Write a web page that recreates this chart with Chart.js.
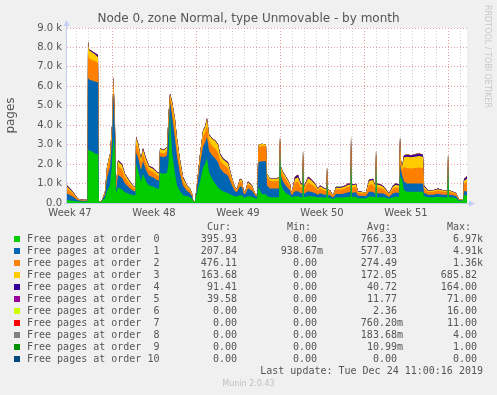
<!DOCTYPE html>
<html>
<head>
<meta charset="utf-8">
<title>Node 0, zone Normal, type Unmovable - by month</title>
<script src="https://cdn.jsdelivr.net/npm/chart.js@4/dist/chart.umd.min.js"></script>
<style>
  html, body { margin: 0; padding: 0; background: #f0f0f0; }
  #wrap { position: relative; width: 497px; height: 395px; overflow: hidden;
          font-family: "DejaVu Sans", sans-serif; color: #555; }
  #chart { position: absolute; left: 0; top: 0; }
  .title { position: absolute; left: 0; top: 11px; width: 497px; text-align: center; font-size: 12px; }
  .rrd { position: absolute; left: 483px; top: 5px; writing-mode: vertical-rl; font-size: 8px; color: #c8c8c8; }
  .mono { position: absolute; font-family: "DejaVu Sans Mono", monospace; font-size: 10px;
          line-height: 12px; white-space: pre; color: #555; }
  .sw { position: absolute; width: 6px; height: 6px; }
  .munin { position: absolute; left: 0; width: 497px; top: 379px; text-align: center; font-size: 8px; color: #c0c0c0; }
</style>
</head>
<body>
<div id="wrap">
  <canvas id="chart" width="497" height="230"></canvas>
  <div class="title">Node 0, zone Normal, type Unmovable - by month</div>
  <div class="rrd">RRDTOOL / TOBI OETIKER</div>
  <div id="legend"></div>
  <div class="munin">Munin 2.0.43</div>
</div>
<script>
// 時間軸（グラフ左端からの経過時間、1px = 2時間）
const hours = [
  0, 6, 12, 18, 22, 30, 38, 41, 42, 44,
  50, 56, 62, 64, 68, 72, 76, 80, 86, 90,
  93, 96, 98, 102, 110, 116, 126, 134, 137, 138,
  142, 146, 148, 152, 158, 164, 172, 180, 184, 186,
  194, 200, 203, 206, 210, 216, 220, 226, 232, 240,
  246, 250, 253, 256, 260, 266, 272, 276, 280, 284,
  290, 296, 302, 306, 312, 322, 330, 336, 340, 346,
  350, 353, 356, 362, 370, 376, 380, 383, 390, 398,
  400, 406, 416, 422, 424, 426, 428, 432, 438, 446,
  449, 456, 462, 468, 471, 472, 474, 482, 488, 496,
  502, 506, 516, 519, 520, 522, 526, 532, 538, 548,
  556, 562, 567, 568, 570, 578, 582, 598, 604, 612,
  615, 617, 618, 620, 628, 634, 644, 652, 658, 664,
  665, 666, 668, 670, 674, 680, 688, 696, 704, 712,
  714, 722, 732, 742, 752, 761, 762, 764, 772, 778,
  784, 792, 794, 800
];

const order0 = [
  150, 130, 110, 90, 80, 80, 70, 70, 2750, 2700,
  2650, 2550, 2500, 60, 50, 150, 250, 600, 900, 2000,
  3400, 2500, 500, 800, 700, 550, 450, 400, 400, 2000,
  1700, 1300, 1100, 1500, 1100, 900, 850, 750, 730, 1550,
  1500, 1550, 2000, 4600, 2600, 1500, 900, 600, 400, 350,
  300, 200, 50, 100, 500, 1100, 1800, 2000, 2300, 1600,
  1250, 1000, 800, 700, 600, 500, 400, 350, 330, 400,
  390, 300, 280, 350, 320, 250, 220, 800, 450, 450,
  350, 300, 300, 300, 300, 2400, 1000, 700, 500, 400,
  300, 350, 350, 300, 300, 1900, 300, 350, 350, 320,
  280, 300, 280, 280, 1000, 270, 260, 200, 280, 280,
  300, 320, 320, 2000, 310, 320, 250, 250, 330, 330,
  300, 300, 1800, 300, 300, 300, 220, 300, 320, 310,
  310, 1400, 1300, 1200, 650, 580, 580, 580, 580, 580,
  350, 300, 300, 320, 300, 300, 1800, 300, 280, 250,
  120, 100, 400, 396
];
const order1 = [
  330, 280, 210, 120, 60, 40, 40, 40, 3700, 3650,
  3650, 3700, 3700, 20, 0, 80, 180, 700, 950, 1300,
  2300, 1000, 150, 650, 600, 450, 300, 200, 210, 600,
  650, 600, 600, 650, 600, 500, 480, 430, 420, 850,
  850, 900, 1800, 600, 1900, 1800, 1500, 900, 500, 270,
  220, 150, 0, 0, 300, 900, 1100, 1100, 1100, 1100,
  1200, 1300, 1300, 1100, 1000, 900, 500, 250, 230, 450,
  430, 200, 170, 400, 320, 150, 110, 1300, 1700, 1700,
  550, 450, 440, 450, 450, 450, 400, 400, 380, 250,
  100, 250, 250, 200, 200, 300, 170, 250, 230, 200,
  150, 200, 150, 150, 300, 140, 140, 80, 180, 180,
  200, 230, 230, 400, 220, 230, 120, 110, 250, 250,
  200, 200, 350, 200, 200, 180, 90, 200, 220, 210,
  210, 600, 350, 250, 450, 420, 420, 420, 420, 420,
  180, 130, 130, 150, 130, 130, 300, 130, 120, 110,
  40, 30, 200, 208
];
const order2 = [
  250, 200, 150, 80, 50, 30, 30, 30, 1200, 1100,
  1050, 1050, 1000, 20, 0, 50, 110, 350, 450, 450,
  500, 300, 120, 450, 420, 300, 200, 140, 140, 450,
  450, 400, 370, 380, 350, 300, 280, 250, 240, 200,
  200, 220, 400, 200, 450, 600, 500, 400, 250, 150,
  130, 90, 0, 0, 130, 300, 500, 500, 600, 500,
  500, 500, 500, 400, 400, 400, 250, 120, 110, 250,
  240, 100, 80, 220, 170, 70, 50, 750, 800, 780,
  450, 380, 380, 400, 400, 350, 300, 320, 320, 230,
  70, 450, 500, 300, 300, 300, 220, 450, 400, 300,
  200, 250, 200, 200, 300, 190, 170, 80, 230, 230,
  250, 280, 280, 450, 270, 280, 150, 130, 350, 380,
  300, 300, 300, 300, 270, 220, 120, 230, 260, 250,
  250, 600, 300, 250, 750, 800, 780, 800, 820, 800,
  220, 140, 150, 170, 150, 150, 250, 150, 120, 100,
  30, 20, 400, 476
];
const order3 = [
  110, 90, 70, 40, 20, 10, 10, 10, 600, 400,
  400, 350, 300, 0, 0, 20, 60, 200, 230, 220,
  270, 200, 70, 250, 230, 170, 120, 80, 80, 280,
  250, 220, 200, 220, 200, 160, 150, 140, 130, 180,
  180, 180, 300, 200, 250, 400, 400, 300, 150, 100,
  80, 60, 0, 0, 70, 200, 300, 300, 330, 300,
  350, 400, 400, 300, 250, 250, 120, 60, 50, 120,
  110, 40, 40, 100, 70, 30, 20, 130, 100, 70,
  150, 100, 110, 120, 120, 200, 150, 150, 120, 100,
  30, 200, 230, 150, 150, 200, 110, 220, 200, 140,
  90, 110, 90, 90, 250, 80, 60, 40, 100, 100,
  100, 110, 110, 350, 110, 120, 60, 50, 200, 220,
  150, 150, 250, 150, 130, 100, 50, 120, 140, 130,
  130, 700, 250, 150, 500, 580, 570, 580, 600, 580,
  100, 60, 60, 70, 60, 60, 200, 60, 50, 40,
  10, 0, 150, 164
];
const order4 = [
  40, 30, 25, 15, 10, 10, 0, 0, 50, 50,
  50, 50, 100, 0, 0, 0, 0, 20, 20, 30,
  30, 0, 0, 50, 50, 30, 30, 20, 20, 50,
  50, 30, 30, 50, 50, 40, 40, 30, 30, 20,
  20, 20, 20, 30, 30, 30, 30, 30, 50, 30,
  20, 0, 0, 0, 0, 20, 30, 30, 30, 30,
  30, 30, 30, 50, 50, 50, 30, 20, 20, 30,
  30, 10, 0, 30, 20, 0, 0, 0, 0, 0,
  0, 20, 20, 30, 30, 0, 0, 30, 30, 20,
  0, 80, 100, 50, 50, 0, 40, 60, 50, 40,
  20, 40, 20, 20, 0, 20, 20, 0, 30, 30,
  30, 40, 40, 50, 40, 40, 20, 0, 50, 50,
  40, 40, 0, 40, 40, 40, 20, 50, 60, 50,
  50, 100, 0, 0, 80, 90, 80, 100, 100, 90,
  50, 20, 20, 30, 20, 20, 0, 20, 10, 10,
  0, 0, 70, 91
];
const order5 = [
  20, 20, 15, 5, 0, 0, 0, 0, 10, 10,
  10, 10, 10, 0, 0, 0, 0, 0, 0, 0,
  0, 0, 0, 0, 0, 0, 0, 0, 0, 10,
  10, 10, 10, 10, 10, 10, 10, 10, 0, 0,
  0, 0, 0, 0, 0, 0, 0, 0, 0, 0,
  0, 0, 0, 0, 0, 0, 0, 0, 0, 0,
  0, 0, 0, 0, 0, 0, 0, 0, 0, 0,
  0, 0, 0, 0, 0, 0, 0, 0, 0, 0,
  0, 0, 0, 0, 0, 0, 0, 0, 0, 0,
  0, 20, 20, 0, 0, 0, 0, 20, 20, 0,
  0, 0, 0, 0, 0, 0, 0, 0, 0, 0,
  20, 20, 20, 0, 0, 0, 0, 0, 20, 20,
  10, 10, 0, 10, 10, 0, 0, 0, 0, 0,
  0, 0, 0, 0, 20, 30, 20, 30, 30, 30,
  0, 0, 0, 0, 0, 0, 0, 0, 0, 0,
  0, 0, 30, 40
];
const order6 = [
  0, 0, 0, 0, 0, 0, 0, 0, 0, 0,
  0, 0, 0, 0, 0, 0, 0, 0, 0, 0,
  0, 0, 0, 0, 0, 0, 0, 0, 0, 0,
  0, 0, 0, 0, 0, 0, 0, 0, 0, 0,
  0, 0, 0, 0, 0, 0, 0, 0, 0, 0,
  0, 0, 0, 0, 0, 0, 0, 0, 0, 0,
  0, 0, 0, 0, 0, 0, 0, 0, 0, 0,
  0, 0, 0, 0, 0, 0, 0, 0, 0, 0,
  0, 0, 0, 0, 0, 0, 0, 0, 0, 0,
  0, 0, 0, 0, 0, 0, 0, 0, 0, 0,
  0, 0, 0, 0, 0, 0, 0, 0, 0, 0,
  0, 0, 0, 0, 0, 0, 0, 0, 0, 0,
  0, 0, 0, 0, 0, 0, 0, 0, 0, 0,
  0, 0, 0, 0, 0, 10, 0, 10, 0, 0,
  0, 0, 0, 0, 0, 0, 0, 0, 0, 0,
  0, 0, 0, 0
];
const order7 = [
  0, 0, 0, 0, 0, 0, 20, 30, 0, 0,
  0, 0, 0, 0, 0, 0, 0, 0, 0, 0,
  0, 0, 0, 0, 0, 0, 0, 0, 0, 0,
  0, 0, 0, 0, 0, 0, 0, 0, 0, 0,
  0, 0, 0, 0, 0, 0, 0, 0, 0, 0,
  0, 0, 0, 0, 0, 0, 0, 0, 0, 0,
  0, 0, 0, 0, 0, 0, 0, 0, 0, 0,
  0, 0, 0, 0, 0, 0, 0, 0, 0, 0,
  0, 0, 0, 0, 0, 0, 0, 0, 0, 0,
  0, 0, 0, 0, 0, 0, 0, 0, 0, 0,
  0, 0, 0, 0, 0, 0, 0, 0, 0, 0,
  0, 0, 0, 250, 0, 0, 0, 0, 0, 0,
  0, 0, 0, 0, 0, 0, 0, 0, 0, 0,
  0, 0, 0, 0, 0, 0, 0, 0, 0, 0,
  0, 0, 0, 0, 0, 0, 0, 0, 0, 0,
  0, 0, 0, 0
];
const order8 = [
  0, 0, 0, 0, 0, 0, 0, 0, 0, 0,
  0, 0, 0, 0, 0, 0, 0, 0, 0, 0,
  0, 0, 0, 0, 0, 0, 0, 0, 0, 0,
  0, 0, 0, 0, 0, 0, 0, 0, 0, 0,
  0, 0, 0, 0, 0, 0, 0, 0, 0, 0,
  0, 0, 0, 0, 0, 0, 0, 0, 0, 0,
  0, 0, 0, 0, 0, 0, 0, 0, 0, 0,
  0, 0, 0, 0, 0, 0, 0, 0, 0, 0,
  0, 0, 0, 0, 0, 0, 0, 0, 0, 0,
  0, 0, 0, 0, 0, 0, 0, 0, 0, 0,
  0, 0, 0, 0, 0, 0, 0, 0, 20, 20,
  0, 0, 0, 0, 0, 0, 0, 0, 0, 0,
  0, 0, 0, 0, 0, 0, 0, 0, 0, 0,
  0, 0, 0, 0, 0, 0, 0, 0, 0, 0,
  0, 0, 0, 0, 0, 0, 0, 0, 0, 0,
  0, 0, 0, 0
];
const order9 = [
  0, 0, 0, 0, 0, 0, 0, 0, 0, 0,
  0, 0, 0, 0, 0, 0, 0, 0, 0, 0,
  0, 0, 0, 0, 0, 0, 0, 0, 0, 0,
  0, 0, 0, 0, 0, 0, 0, 0, 0, 0,
  0, 0, 0, 0, 0, 0, 0, 0, 0, 0,
  0, 0, 0, 0, 0, 0, 0, 0, 0, 0,
  0, 0, 0, 0, 0, 0, 0, 0, 0, 0,
  0, 0, 0, 0, 0, 0, 0, 0, 0, 0,
  0, 0, 0, 0, 0, 0, 0, 0, 0, 0,
  0, 0, 0, 0, 0, 0, 0, 0, 0, 0,
  0, 0, 0, 0, 0, 0, 0, 0, 0, 0,
  0, 0, 0, 0, 0, 0, 0, 0, 0, 0,
  0, 0, 0, 0, 0, 0, 0, 0, 0, 0,
  0, 0, 0, 0, 0, 0, 0, 0, 0, 0,
  0, 0, 0, 0, 0, 0, 0, 0, 0, 0,
  0, 0, 0, 0
];
const order10 = [
  0, 0, 0, 0, 0, 0, 0, 0, 0, 0,
  0, 0, 0, 0, 0, 0, 0, 0, 0, 0,
  0, 0, 0, 0, 0, 0, 0, 0, 0, 0,
  0, 0, 0, 0, 0, 0, 0, 0, 0, 0,
  0, 0, 0, 0, 0, 0, 0, 0, 0, 0,
  0, 0, 0, 0, 0, 0, 0, 0, 0, 0,
  0, 0, 0, 0, 0, 0, 0, 0, 0, 0,
  0, 0, 0, 0, 0, 0, 0, 0, 0, 0,
  0, 0, 0, 0, 0, 0, 0, 0, 0, 0,
  0, 0, 0, 0, 0, 0, 0, 0, 0, 0,
  0, 0, 0, 0, 0, 0, 0, 0, 0, 0,
  0, 0, 0, 0, 0, 0, 0, 0, 0, 0,
  0, 0, 0, 0, 0, 0, 0, 0, 0, 0,
  0, 0, 0, 0, 0, 0, 0, 0, 0, 0,
  0, 0, 0, 0, 0, 0, 0, 0, 0, 0,
  0, 0, 0, 0
];

// 凡例の表示文字列（munin の表そのまま）
const seriesNames = [
  "Free pages at order  0", "Free pages at order  1", "Free pages at order  2",
  "Free pages at order  3", "Free pages at order  4", "Free pages at order  5",
  "Free pages at order  6", "Free pages at order  7", "Free pages at order  8",
  "Free pages at order  9", "Free pages at order 10"
];
const seriesColors = [
  "#00CC00", "#0066B3", "#FF8000", "#FFCC00", "#330099", "#990099",
  "#CCFF00", "#FF0000", "#808080", "#008F00", "#00487D"
];
const curText = ["395.93 ", "207.84 ", "476.11 ", "163.68 ", "91.41 ", "39.58 ", "0.00 ", "0.00 ", "0.00 ", "0.00 ", "0.00 "];
const minText = ["0.00 ", "938.67m", "0.00 ", "0.00 ", "0.00 ", "0.00 ", "0.00 ", "0.00 ", "0.00 ", "0.00 ", "0.00 "];
const avgText = ["766.33 ", "577.03 ", "274.49 ", "172.05 ", "40.72 ", "11.77 ", "2.36 ", "760.20m", "183.68m", "10.99m", "0.00 "];
const maxText = ["6.97k", "4.91k", "1.36k", "685.82 ", "164.00 ", "71.00 ", "16.00 ", "11.00 ", "4.00 ", "1.00 ", "0.00 "];
const lastUpdate = "Last update: Tue Dec 24 11:00:16 2019";

// x軸の目盛り
const weekTickHours = [6, 174, 342, 510, 678];
const weekTickLabels = ["Week 47", "Week 48", "Week 49", "Week 50", "Week 51"];
const firstMidnight = 18;
const firstMonday = 90;

const allSeries = [order0, order1, order2, order3, order4, order5, order6, order7, order8, order9, order10];

// 日ごとの補助線 + 週ラベル用の目盛り
const dayTicks = [];
for (let h = firstMidnight; h <= 800; h += 24) dayTicks.push(h);

const MAJOR = "#eaa0a0";
const MINOR = "#cfcfcf";

// プロット背景と軸の矢印
const plotFrame = {
  id: "plotFrame",
  beforeDraw(chart) {
    const { ctx, chartArea: a } = chart;
    ctx.save();
    ctx.fillStyle = "#ffffff";
    ctx.fillRect(a.left, a.top, a.right - a.left, a.bottom - a.top);
    ctx.restore();
  },
  afterDraw(chart) {
    const { ctx, chartArea: a } = chart;
    ctx.save();
    ctx.strokeStyle = "#c4cdf4";
    ctx.fillStyle = "#c4cdf4";
    ctx.lineWidth = 1;
    ctx.beginPath();
    ctx.moveTo(a.left - 0.5, a.bottom + 0.5);
    ctx.lineTo(a.left - 0.5, a.top - 4);
    ctx.moveTo(a.left - 3, a.bottom + 0.5);
    ctx.lineTo(a.right + 4, a.bottom + 0.5);
    ctx.stroke();
    ctx.beginPath();
    ctx.moveTo(a.left - 3.5, a.top - 2);
    ctx.lineTo(a.left - 0.5, a.top - 8);
    ctx.lineTo(a.left + 2.5, a.top - 2);
    ctx.fill();
    ctx.beginPath();
    ctx.moveTo(a.right + 2, a.bottom - 2.5);
    ctx.lineTo(a.right + 8, a.bottom + 0.5);
    ctx.lineTo(a.right + 2, a.bottom + 3.5);
    ctx.fill();
    ctx.restore();
  }
};

Chart.defaults.font.family = "'DejaVu Sans', sans-serif";
Chart.defaults.font.size = 10;
Chart.defaults.color = "#555";

new Chart(document.getElementById("chart"), {
  type: "line",
  data: {
    datasets: allSeries.map((s, i) => ({
      label: seriesNames[i],
      data: hours.map((h, j) => ({ x: h, y: s[j] })),
      backgroundColor: seriesColors[i],
      borderColor: "transparent",
      borderWidth: 0,
      pointRadius: 0,
      fill: "origin",
      tension: 0
    }))
  },
  options: {
    responsive: false,
    animation: false,
    devicePixelRatio: 1,
    layout: { padding: { top: 28, right: 30, left: 0, bottom: 0 } },
    plugins: { legend: { display: false }, tooltip: { enabled: false } },
    scales: {
      x: {
        type: "linear",
        min: 0,
        max: 800,
        afterBuildTicks: (scale) => {
          const t = dayTicks.concat(weekTickHours).sort((a, b) => a - b);
          scale.ticks = t.map((v) => ({ value: v }));
        },
        afterFit: (scale) => { scale.height = 27; },
        ticks: {
          autoSkip: false,
          maxRotation: 0,
          padding: 4,
          color: "#555",
          callback: (v) => {
            const k = weekTickHours.indexOf(v);
            return k >= 0 ? weekTickLabels[k] : "";
          }
        },
        grid: {
          drawTicks: false,
          color: (ctx) => {
            const v = ctx.tick ? ctx.tick.value : -1;
            if (weekTickHours.includes(v)) return "rgba(0,0,0,0)";
            return (v - firstMonday) % 168 === 0 ? MAJOR : MINOR;
          }
        },
        border: { display: false, dash: [1, 2] }
      },
      y: {
        stacked: true,
        min: 0,
        max: 9000,
        afterFit: (scale) => { scale.width = 67; },
        ticks: {
          stepSize: 500,
          maxTicksLimit: 20,
          padding: 5,
          color: "#555",
          callback: (v) => {
            if (v === 0) return "0.0";
            return v % 1000 === 0 ? (v / 1000).toFixed(1) + " k" : "";
          }
        },
        grid: {
          drawTicks: false,
          color: (ctx) => (ctx.tick && ctx.tick.value % 1000 === 0 ? MAJOR : MINOR)
        },
        border: { display: false, dash: [1, 2] },
        title: { display: true, text: "pages", color: "#555", font: { size: 12 }, padding: { top: 4, bottom: 0 } }
      }
    }
  },
  plugins: [plotFrame]
});

// 凡例の表（munin 形式）
const legend = document.getElementById("legend");
const ROW0 = 233;
function addText(text, left, top, width, align) {
  const d = document.createElement("div");
  d.className = "mono";
  d.style.left = left + "px";
  d.style.top = top + "px";
  if (width) { d.style.width = width + "px"; d.style.textAlign = align; }
  d.textContent = text;
  legend.appendChild(d);
}
addText("Cur:  ", 0, ROW0 - 12, 243, "right");
addText("Min:  ", 0, ROW0 - 12, 323, "right");
addText("Avg:  ", 0, ROW0 - 12, 403, "right");
addText("Max:  ", 0, ROW0 - 12, 483, "right");
seriesNames.forEach((name, i) => {
  const top = ROW0 + i * 12;
  const sw = document.createElement("div");
  sw.className = "sw";
  sw.style.left = "14px";
  sw.style.top = (top + 3) + "px";
  sw.style.background = seriesColors[i];
  legend.appendChild(sw);
  addText(name, 27, top);
  addText(curText[i], 0, top, 243, "right");
  addText(minText[i], 0, top, 323, "right");
  addText(avgText[i], 0, top, 403, "right");
  addText(maxText[i], 0, top, 483, "right");
});
addText(lastUpdate, 0, ROW0 + 11 * 12, 483, "right");
</script>
</body>
</html>
